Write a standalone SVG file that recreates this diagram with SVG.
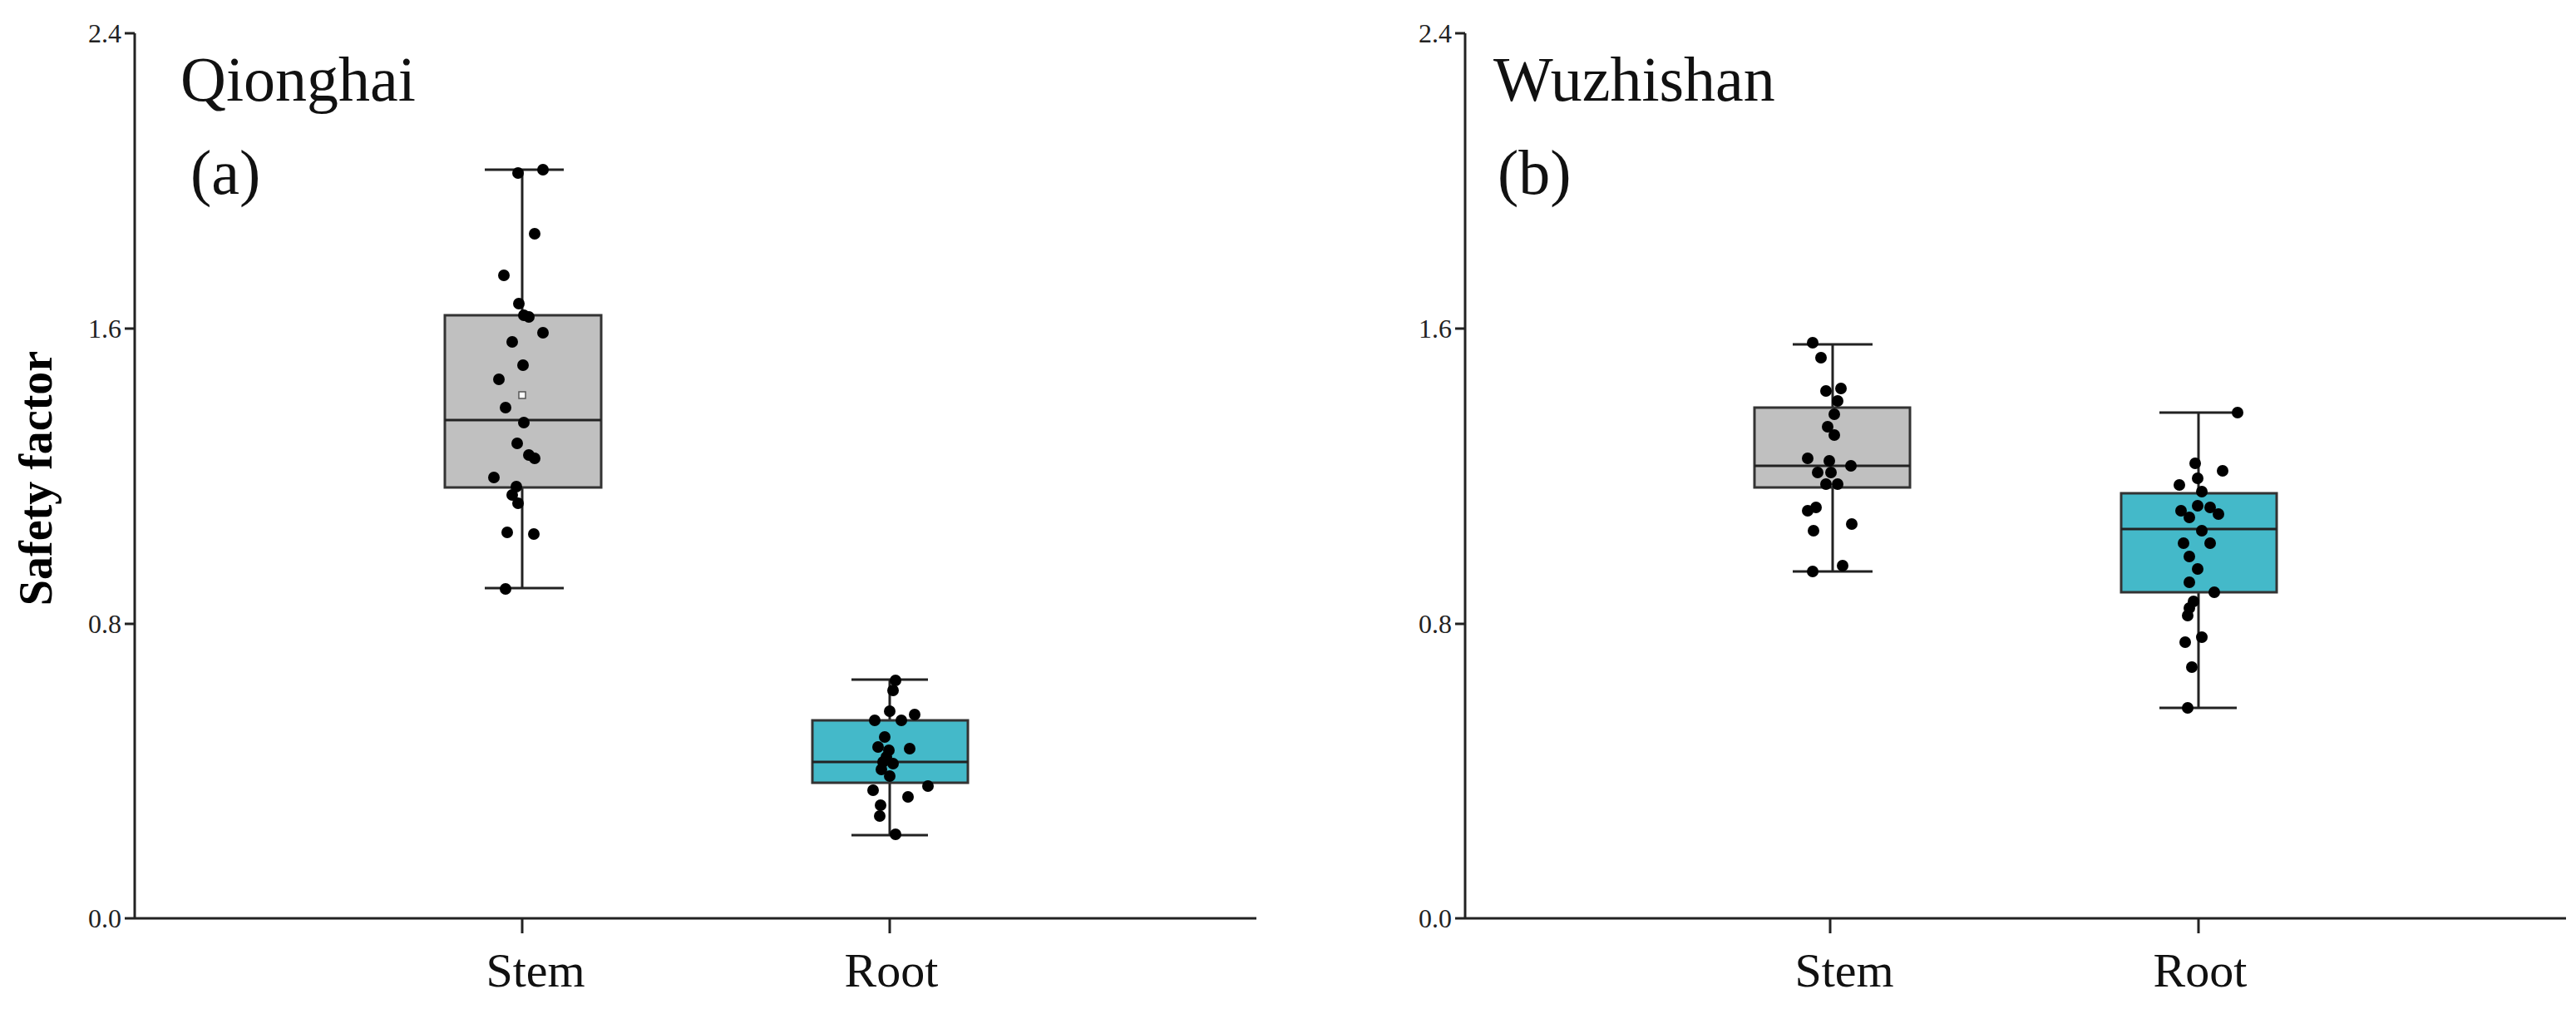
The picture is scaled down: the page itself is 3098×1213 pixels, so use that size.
<svg xmlns="http://www.w3.org/2000/svg" width="3098" height="1213" viewBox="0 0 3098 1213">
<style>
.ax{stroke:#222;stroke-width:3;fill:none}
.bx{stroke:#333;stroke-width:3}
.stem{fill:#c0c0c0}
.root{fill:#44b9c9}
.wh{stroke:#222;stroke-width:3;fill:none}
.pt{fill:#000}
.tk{font-family:"Liberation Serif",serif;font-size:32px;fill:#222;text-anchor:end}
.cat{font-family:"Liberation Serif",serif;font-size:58px;fill:#111;text-anchor:middle}
.ttl{font-family:"Liberation Serif",serif;font-size:76px;fill:#111}
</style>
<rect width="3098" height="1213" fill="#fff"/>
<g id="panel-a">
<path class="ax" d="M162,40V1104H1511M150,40H162M150,395H162M150,750H162M150,1104H162M628,1104v18M1070,1104v18"/>
<text class="tk" x="146" y="51">2.4</text>
<text class="tk" x="146" y="406">1.6</text>
<text class="tk" x="146" y="761">0.8</text>
<text class="tk" x="146" y="1115">0.0</text>
<text transform="translate(62,575) rotate(-90)" style="font-family:'Liberation Serif',serif;font-size:56px;font-weight:bold;text-anchor:middle;fill:#000">Safety factor</text>
<text class="ttl" x="217" y="121">Qionghai</text>
<text class="ttl" x="229" y="233">(a)</text>
<text class="cat" x="644" y="1186">Stem</text>
<text class="cat" x="1072" y="1186">Root</text>
<path class="wh" d="M628,204V379M628,586V707M583,204H678M583,707H678"/>
<rect class="bx stem" x="535" y="379" width="188" height="207"/>
<path class="wh" d="M535,505H723"/>
<rect x="624" y="471" width="8" height="8" fill="#fff" stroke="#555" stroke-width="1.5"/>
<path class="wh" d="M1070,817V866M1070,941V1004M1024,817H1116M1024,1004H1116"/>
<rect class="bx root" x="977" y="866" width="187" height="75"/>
<path class="wh" d="M977,916H1164"/>
<g class="pt">
<circle cx="623" cy="208" r="7"/><circle cx="653" cy="204" r="7"/><circle cx="643" cy="281" r="7"/><circle cx="606" cy="331" r="7"/><circle cx="624" cy="365" r="7"/><circle cx="636" cy="381" r="7"/><circle cx="630" cy="379" r="7"/><circle cx="653" cy="400" r="7"/><circle cx="616" cy="411" r="7"/><circle cx="629" cy="439" r="7"/><circle cx="600" cy="456" r="7"/><circle cx="608" cy="490" r="7"/><circle cx="630" cy="508" r="7"/><circle cx="622" cy="533" r="7"/><circle cx="636" cy="547" r="7"/><circle cx="643" cy="551" r="7"/><circle cx="594" cy="574" r="7"/><circle cx="621" cy="585" r="7"/><circle cx="616" cy="595" r="7"/><circle cx="623" cy="605" r="7"/><circle cx="610" cy="640" r="7"/><circle cx="642" cy="642" r="7"/><circle cx="608" cy="708" r="7"/>
<circle cx="1077" cy="818" r="7"/><circle cx="1074" cy="830" r="7"/><circle cx="1070" cy="855" r="7"/><circle cx="1052" cy="866" r="7"/><circle cx="1084" cy="866" r="7"/><circle cx="1100" cy="859" r="7"/><circle cx="1064" cy="886" r="7"/><circle cx="1056" cy="898" r="7"/><circle cx="1094" cy="900" r="7"/><circle cx="1066" cy="910" r="7"/><circle cx="1074" cy="918" r="7"/><circle cx="1060" cy="925" r="7"/><circle cx="1070" cy="933" r="7"/><circle cx="1050" cy="950" r="7"/><circle cx="1092" cy="958" r="7"/><circle cx="1116" cy="945" r="7"/><circle cx="1059" cy="968" r="7"/><circle cx="1058" cy="981" r="7"/><circle cx="1077" cy="1003" r="7"/><circle cx="1069" cy="902" r="7"/><circle cx="1062" cy="916" r="7"/>
</g>
</g>
<g id="panel-b">
<path class="ax" d="M1762,40V1104H3086M1750,40H1762M1750,395H1762M1750,750H1762M1750,1104H1762M2201,1104v18M2644,1104v18"/>
<text class="tk" x="1746" y="51">2.4</text>
<text class="tk" x="1746" y="406">1.6</text>
<text class="tk" x="1746" y="761">0.8</text>
<text class="tk" x="1746" y="1115">0.0</text>
<text class="ttl" x="1796" y="121">Wuzhishan</text>
<text class="ttl" x="1801" y="233">(b)</text>
<text class="cat" x="2218" y="1186">Stem</text>
<text class="cat" x="2646" y="1186">Root</text>
<path class="wh" d="M2204,414V490M2204,586V687M2156,414H2252M2156,687H2252"/>
<rect class="bx stem" x="2110" y="490" width="187" height="96"/>
<path class="wh" d="M2110,560H2297"/>
<path class="wh" d="M2644,496V593M2644,712V851M2597,496H2690M2597,851H2690"/>
<rect class="bx root" x="2551" y="593" width="187" height="119"/>
<path class="wh" d="M2551,636H2738"/>
<g class="pt">
<circle cx="2180" cy="412" r="7"/><circle cx="2190" cy="430" r="7"/><circle cx="2196" cy="470" r="7"/><circle cx="2214" cy="467" r="7"/><circle cx="2210" cy="482" r="7"/><circle cx="2206" cy="498" r="7"/><circle cx="2198" cy="513" r="7"/><circle cx="2206" cy="523" r="7"/><circle cx="2174" cy="551" r="7"/><circle cx="2200" cy="554" r="7"/><circle cx="2226" cy="560" r="7"/><circle cx="2186" cy="568" r="7"/><circle cx="2196" cy="582" r="7"/><circle cx="2210" cy="582" r="7"/><circle cx="2174" cy="614" r="7"/><circle cx="2184" cy="610" r="7"/><circle cx="2227" cy="630" r="7"/><circle cx="2181" cy="638" r="7"/><circle cx="2180" cy="687" r="7"/><circle cx="2216" cy="680" r="7"/><circle cx="2202" cy="568" r="7"/>
<circle cx="2691" cy="496" r="7"/><circle cx="2640" cy="557" r="7"/><circle cx="2673" cy="566" r="7"/><circle cx="2643" cy="575" r="7"/><circle cx="2621" cy="583" r="7"/><circle cx="2648" cy="591" r="7"/><circle cx="2643" cy="608" r="7"/><circle cx="2658" cy="610" r="7"/><circle cx="2668" cy="618" r="7"/><circle cx="2633" cy="622" r="7"/><circle cx="2648" cy="638" r="7"/><circle cx="2626" cy="653" r="7"/><circle cx="2658" cy="653" r="7"/><circle cx="2633" cy="669" r="7"/><circle cx="2643" cy="684" r="7"/><circle cx="2633" cy="700" r="7"/><circle cx="2663" cy="712" r="7"/><circle cx="2638" cy="723" r="7"/><circle cx="2633" cy="731" r="7"/><circle cx="2631" cy="740" r="7"/><circle cx="2648" cy="766" r="7"/><circle cx="2628" cy="772" r="7"/><circle cx="2636" cy="802" r="7"/><circle cx="2631" cy="851" r="7"/><circle cx="2623" cy="614" r="7"/>
</g>
</g>
</svg>
